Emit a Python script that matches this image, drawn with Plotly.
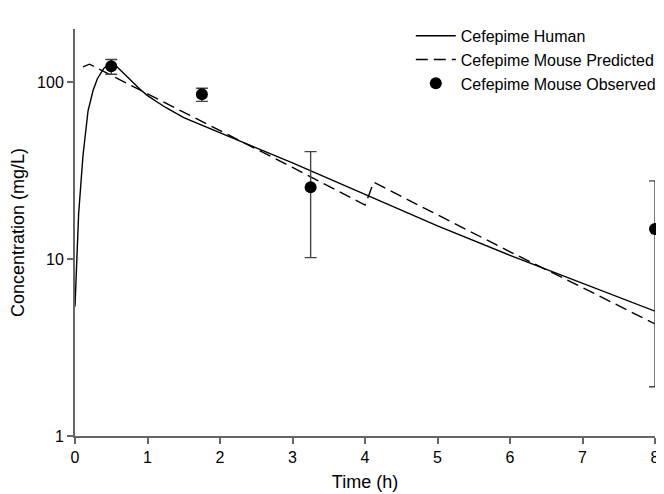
import plotly.graph_objects as go

# Cefepime Human (solid)
human_t = [0.0, 0.05, 0.11, 0.18, 0.25, 0.31, 0.4, 0.5, 0.6, 0.75, 0.9, 1.0, 1.25, 1.5, 2.0, 2.5, 3.0, 3.5, 4.0, 5.0, 6.0, 7.0, 8.0]
human_c = [5.4, 18.0, 38.5, 69.0, 90.0, 105.0, 120.0, 130.0, 120.0, 104.0, 91.0, 84.0, 72.0, 63.0, 51.5, 42.5, 35.0, 28.5, 23.0, 15.4, 10.5, 7.3, 5.08]

# Cefepime Mouse Predicted (dashed)
pred_t = [0.11, 0.2, 1.0, 2.0, 3.0, 4.0, 4.12, 5.0, 6.0, 7.0, 8.0]
pred_c = [122.0, 126.5, 86.0, 53.5, 33.0, 20.2, 27.2, 17.8, 11.0, 6.9, 4.3]

# Cefepime Mouse Observed (points with error bars)
obs_t = [0.5, 1.75, 3.25, 8.0]
obs_c = [123.0, 85.5, 25.5, 14.8]
obs_lo = [111.0, 78.0, 10.2, 1.9]
obs_hi = [134.5, 92.5, 40.5, 27.7]

x_ticks = [0, 1, 2, 3, 4, 5, 6, 7, 8]
y_ticks = [1, 10, 100]

err_plus = [h - c for h, c in zip(obs_hi, obs_c)]
err_minus = [c - l for c, l in zip(obs_c, obs_lo)]

fig = go.Figure()
fig.add_trace(go.Scatter(
    x=human_t, y=human_c, mode="lines", name="Cefepime Human",
    line=dict(color="black", width=1.4),
))
fig.add_trace(go.Scatter(
    x=pred_t, y=pred_c, mode="lines", name="Cefepime Mouse Predicted",
    line=dict(color="black", width=1.4, dash="12px,6px"),
))
fig.add_trace(go.Scatter(
    x=obs_t, y=obs_c, mode="markers", name="Cefepime Mouse Observed",
    marker=dict(color="black", size=12),
    error_y=dict(type="data", symmetric=False, array=err_plus, arrayminus=err_minus,
                 color="#444444", thickness=1.4, width=6),
    cliponaxis=False,
))

font_family = "Liberation Sans, Arial, sans-serif"
fig.update_layout(
    width=664, height=494,
    margin=dict(l=67, r=11, t=17, b=66),
    paper_bgcolor="white", plot_bgcolor="white",
    font=dict(family=font_family, color="black", size=16),
    showlegend=True,
    legend=dict(x=1.01, xanchor="right", y=1.025, yanchor="top",
                bgcolor="rgba(0,0,0,0)", font=dict(size=16),
                tracegroupgap=0, itemwidth=40),
    xaxis=dict(
        range=[0, 8], tickvals=x_ticks, ticktext=[str(v) for v in x_ticks],
        showgrid=False, zeroline=False, showline=True, linecolor="#666666", linewidth=2,
        ticks="outside", ticklen=6, tickwidth=1.5, tickcolor="#666666",
        title=dict(text="Time (h)", font=dict(size=18), standoff=10),
        tickfont=dict(size=16), automargin=False,
    ),
    yaxis=dict(
        type="log", range=[0, 2.301], tickvals=y_ticks, ticktext=[str(v) for v in y_ticks],
        showgrid=False, zeroline=False, showline=True, linecolor="#666666", linewidth=2,
        ticks="outside", ticklen=6, tickwidth=1.5, tickcolor="#666666",
        title=dict(text="Concentration (mg/L)", font=dict(size=18), standoff=8),
        tickfont=dict(size=16), automargin=False,
    ),
)

fig.write_html("out.html")
